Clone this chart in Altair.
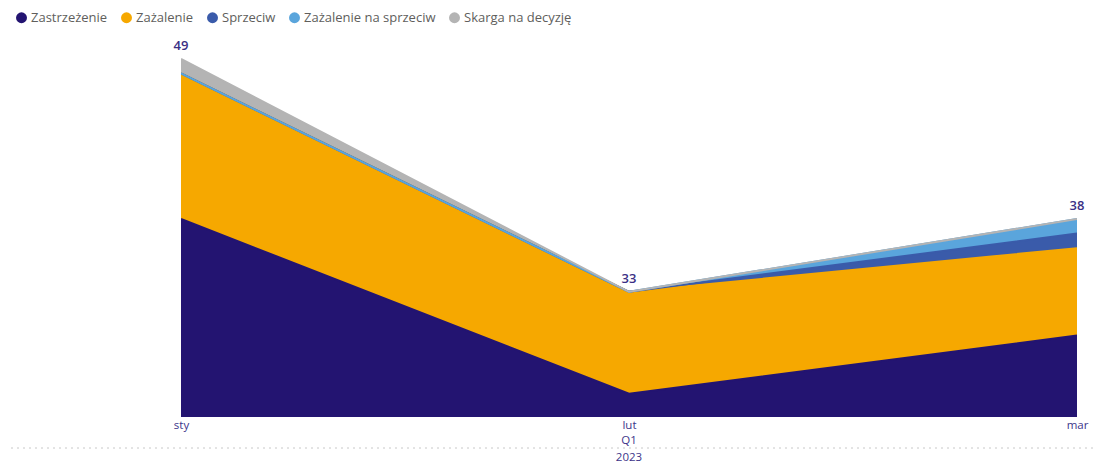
import altair as alt
import pandas as pd

months = ["sty", "lut", "mar"]
series = ["Zastrzeżenie", "Zażalenie", "Sprzeciw", "Zażalenie na sprzeciw", "Skarga na decyzję"]
colors = ["#231471", "#F6A800", "#3A5BAA", "#5AA5DC", "#B4B4B4"]

zastrzezenie = [38, 26, 30]
zazalenie = [10, 7, 6]
sprzeciw = [0, 0, 1]
zazalenie_na_sprzeciw = [0, 0, 1]
skarga = [1, 0, 0]

values = [zastrzezenie, zazalenie, sprzeciw, zazalenie_na_sprzeciw, skarga]
rows = []
for i, (s, vals) in enumerate(zip(series, values)):
    for m, v in zip(months, vals):
        rows.append({"month": m, "series": s, "value": v, "idx": i})
df = pd.DataFrame(rows)

totals = pd.DataFrame({"month": months, "total": [sum(v[j] for v in values) for j in range(3)]})

W, H = 896, 377
FONT = "Open Sans"
TXT = "#3D358A"

x = alt.X("month:O", sort=months, scale=alt.Scale(padding=0),
          axis=alt.Axis(title=None, labelAngle=0, ticks=False, domain=False, grid=False,
                        labelColor=TXT, labelFontSize=11.5, labelFont=FONT, labelFontWeight=500,
                        labelPadding=2))
yscale = alt.Scale(domain=[24.4, 50.3], nice=False, zero=False)

area = alt.Chart(df).mark_area(clip=True, line={"strokeWidth": 2}, opacity=1).encode(
    x=x,
    y=alt.Y("value:Q", stack="zero", scale=yscale, axis=None),
    color=alt.Color("series:N", sort=series,
                    scale=alt.Scale(domain=series, range=colors),
                    legend=alt.Legend(title=None, orient="none", direction="horizontal",
                                      legendX=-166, legendY=-29, symbolType="circle",
                                      symbolSize=120, symbolStrokeWidth=0, labelFont=FONT,
                                      labelFontSize=13, labelColor="#605E5C",
                                      columnPadding=12, labelOffset=3, padding=0,
                                      symbolOpacity=1)),
    order=alt.Order("idx:Q", sort="ascending"),
)

labels = alt.Chart(totals).mark_text(dy=-13, fontSize=13, font=FONT, color="#3A2F85",
                                     fontWeight=600).encode(
    x=alt.X("month:O", sort=months),
    y=alt.Y("total:Q", scale=yscale),
    text="total:Q",
)

quarter = pd.DataFrame({"month": ["lut"], "q": ["Q1"], "yr": ["2023"]})
q_text = alt.Chart(quarter).mark_text(fontSize=11.5, font=FONT, color=TXT, fontWeight=500,
                                      baseline="middle").encode(
    x=alt.X("month:O", sort=months), y=alt.value(H + 24), text="q:N")
y_text = alt.Chart(quarter).mark_text(fontSize=11.5, font=FONT, color=TXT, fontWeight=500,
                                      baseline="middle").encode(
    x=alt.X("month:O", sort=months), y=alt.value(H + 41), text="yr:N")
rule = alt.Chart(quarter).mark_rule(color="#C8C8C8", strokeDash=[2, 4], strokeWidth=1).encode(
    x=alt.value(-176), x2=alt.value(W + 28), y=alt.value(H + 31))

chart = alt.layer(area, labels, q_text, y_text, rule).properties(
    width=W, height=H,
    autosize=alt.AutoSizeParams(type="none"),
    padding={"left": 173, "top": 32, "right": 20, "bottom": 50},
).configure_view(stroke=None)

chart.save("out.html", embed_options={"renderer": "svg", "actions": False})
